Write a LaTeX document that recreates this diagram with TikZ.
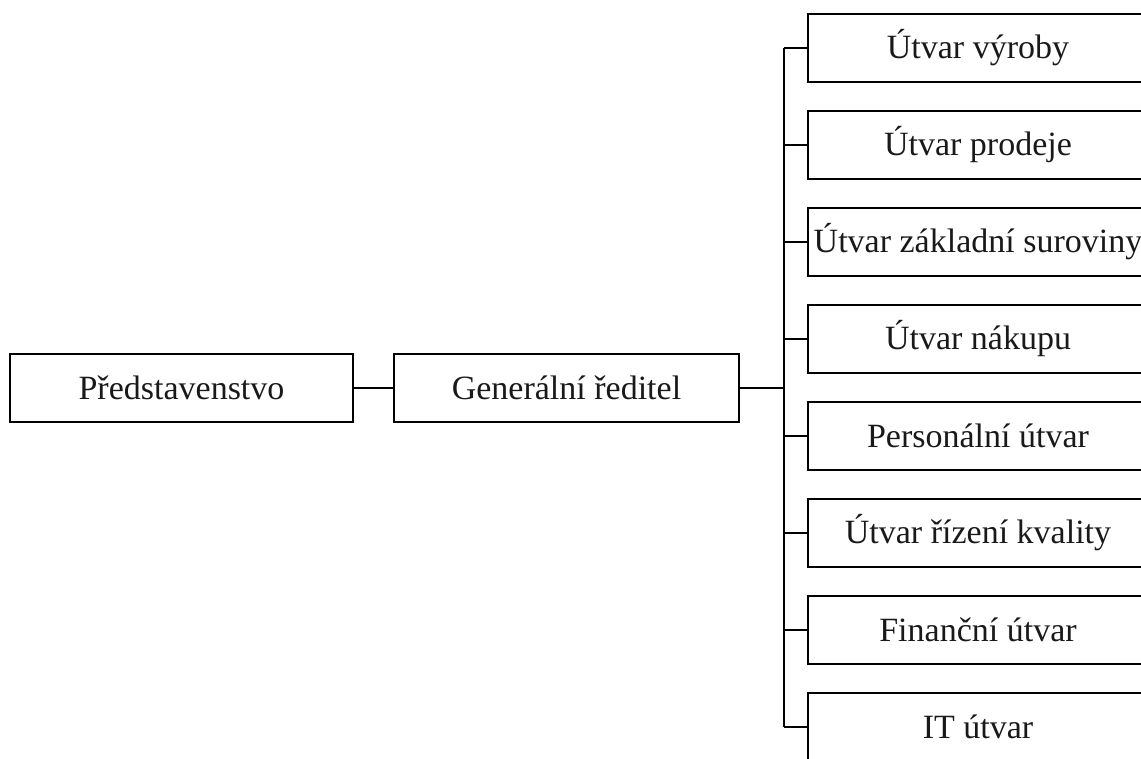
\documentclass[tikz,border=0pt]{standalone}
\usepackage{fontspec}
\setmainfont{Liberation Serif}
\begin{document}
\begin{tikzpicture}[x=1pt,y=-1pt,
  box/.style={draw,line width=2.8pt,minimum width=#1,minimum height=68pt,inner sep=0pt,
    font=\fontsize{34}{40}\selectfont,text=black!90},
  link/.style={line width=2.8pt}]
\useasboundingbox (0,0) rectangle (1141,758);
\clip (0,0) rectangle (1141,758);
\node[box=343pt] (p) at (181.5,388) {Představenstvo};
\node[box=345pt] (g) at (566.5,388) {Generální ředitel};
\coordinate (trunk) at (784,388);
\node[box=340pt] (b1) at (978,48) {Útvar výroby};
\node[box=340pt] (b2) at (978,145) {Útvar prodeje};
\node[box=340pt] (b3) at (978,242) {Útvar základní suroviny};
\node[box=340pt] (b4) at (978,339) {Útvar nákupu};
\node[box=340pt] (b5) at (978,436) {Personální útvar};
\node[box=340pt] (b6) at (978,533) {Útvar řízení kvality};
\node[box=340pt] (b7) at (978,630) {Finanční útvar};
\node[box=340pt] (b8) at (978,727) {IT útvar};
\draw[link] (p.east) -- (g.west);
\draw[link] (g.east) -- (trunk);
\draw[link] (b1.west -| trunk) -- (b8.west -| trunk);
\foreach \i in {1,...,8} {
  \draw[link] (b\i.west -| trunk) -- (b\i.west);
}
\end{tikzpicture}
\end{document}
